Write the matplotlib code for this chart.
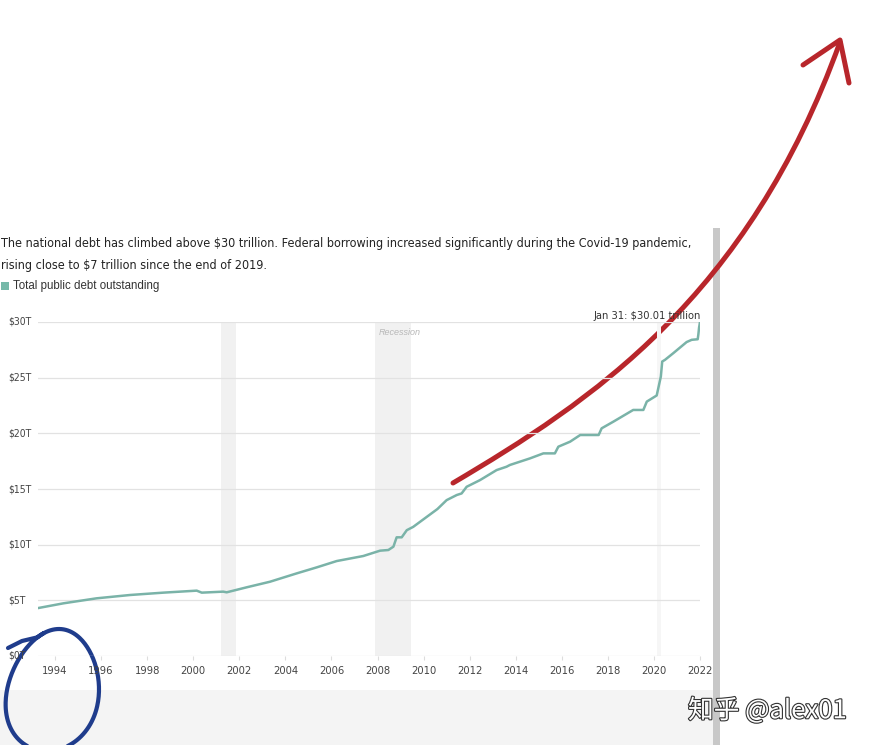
import matplotlib
matplotlib.use("Agg")
import matplotlib.pyplot as plt
from matplotlib import font_manager as fm
from matplotlib.transforms import blended_transform_factory
from matplotlib.path import Path
from matplotlib.patches import PathPatch
import matplotlib.patheffects as pe
import numpy as np

# ---------------- data ----------------
years = [1993.2, 1994.36, 1995.8, 1997.26, 1998.7, 2000.15, 2000.37, 2001.3, 2001.45,
         2002.32, 2003.33, 2004.49, 2005.36, 2006.23, 2007.38, 2008.11, 2008.47, 2008.69,
         2008.83, 2009.05, 2009.27, 2009.55, 2010.14, 2010.6, 2011.0, 2011.44, 2011.65,
         2011.87, 2012.45, 2013.17, 2013.6, 2013.75, 2014.62, 2015.2, 2015.7, 2015.85,
         2016.36, 2016.8, 2017.6, 2017.73, 2018.24, 2019.1, 2019.54, 2019.69, 2020.12,
         2020.3, 2020.36, 2020.48, 2020.84, 2021.42, 2021.64, 2021.9, 2021.93, 2021.96, 2022.0]
debt = [4.28, 4.73, 5.18, 5.48, 5.69, 5.87, 5.69, 5.78, 5.72,
        6.17, 6.67, 7.42, 7.96, 8.53, 8.98, 9.46, 9.52, 9.82,
        10.66, 10.66, 11.3, 11.6, 12.5, 13.2, 14.0, 14.46, 14.6,
        15.2, 15.8, 16.7, 17.0, 17.16, 17.75, 18.2, 18.2, 18.8,
        19.25, 19.85, 19.85, 20.45, 21.05, 22.1, 22.1, 22.85, 23.4,
        25.1, 26.45, 26.6, 27.2, 28.2, 28.4, 28.45, 28.9, 29.5, 30.0]
recessions = [(2001.2, 2001.86), (2007.9, 2009.45), (2020.15, 2020.3)]
y_ticks = [0, 5, 10, 15, 20, 25, 30]
y_tick_labels = ["$0T", "$5T", "$10T", "$15T", "$20T", "$25T", "$30T"]
x_ticks = list(range(1994, 2023, 2))
x_tick_labels = [str(y) for y in x_ticks]
title_lines = ["The national debt has climbed above $30 trillion. Federal borrowing increased significantly during the Covid-19 pandemic,",
               "rising close to $7 trillion since the end of 2019."]
legend_label = "Total public debt outstanding"
end_label = "Jan 31: $30.01 trillion"

# ---------------- fonts ----------------
names = {f.name for f in fm.fontManager.ttflist}
if "Liberation Sans Narrow" in names:
    NARROW = dict(fontfamily="Liberation Sans Narrow")
else:
    NARROW = dict(fontfamily="DejaVu Sans", fontstretch="condensed")
sans = "Liberation Sans" if "Liberation Sans" in names else "DejaVu Sans"

W, H = 873, 745
fig = plt.figure(figsize=(W / 100, H / 100), dpi=100)
fig.patch.set_facecolor("white")

# overlay axes in pixel coordinates (background + hand annotations)
bg = fig.add_axes([0, 0, 1, 1], zorder=0)
bg.set_xlim(0, W)
bg.set_ylim(H, 0)
bg.axis("off")
bg.add_patch(plt.Rectangle((0, 690), 713, 55, color="#f4f4f4", lw=0))
bg.add_patch(plt.Rectangle((713, 228), 7, 517, color="#c8c8c8", lw=0))

# chart axes
line_color = "#7ab3a8"
x0, x1 = 1993.26, 2022.0
AX_W = 700 - 38
ax = fig.add_axes([38 / W, 1 - 656 / H, AX_W / W, (656 - 322) / H], zorder=1)
ax.patch.set_alpha(0)
ax.set_xlim(x0, x1)
ax.set_ylim(0, 30)
for s in ax.spines.values():
    s.set_visible(False)
for (a, b), c in zip(recessions, ["#f1f1f1", "#f1f1f1", "#f6f6f6"]):
    ax.axvspan(a, b, color=c, lw=0, zorder=0)
for v in y_ticks:
    ax.axhline(v, color="#e2e2e2", lw=0.9, zorder=1)
ax.plot(years, debt, color=line_color, lw=1.8, zorder=3, solid_joinstyle="round")
ax.set_yticks([])
ytr = blended_transform_factory(ax.transAxes, ax.transData)
for v, lbl in zip(y_ticks, y_tick_labels):
    ax.text(-30 / AX_W, v, lbl, transform=ytr, ha="left", va="center",
            fontsize=7.5, color="#444444", **NARROW)
ax.set_xticks(x_ticks)
ax.set_xticklabels(x_tick_labels, fontsize=8, color="#444444", **NARROW)
ax.tick_params(axis="x", length=3, color="#dddddd", pad=4)
ax.text(2008.95, 29.1, "Recession", fontsize=6.5, style="italic", color="#b8b8b8",
        ha="center", va="center", fontfamily=sans)
ax.text(x1 + 0.05, 30.1, end_label, fontsize=8.0, color="#333333", ha="right", va="bottom",
        **NARROW)

# titles and legend (figure pixel coordinates)
t1 = fig.text(1 / W, 1 - 244 / H, title_lines[0], fontsize=10.2, color="#222222",
              va="center", ha="left", **NARROW)
t2 = fig.text(1 / W, 1 - 265 / H, title_lines[1], fontsize=10.2, color="#222222",
              va="center", ha="left", **NARROW)
r = fig.canvas.get_renderer()
w = t1.get_window_extent(r).width
fs = 10.2 * 690 / w
t1.set_fontsize(fs)
t2.set_fontsize(fs)

bg.add_patch(plt.Rectangle((1, 282), 8, 8, color="#76b9a9", lw=0))
fig.text(13 / W, 1 - 286 / H, legend_label, fontsize=8.3, color="#333333",
         fontfamily=sans, va="center", ha="left")

# hand-drawn red arrow (smooth curve)
red = "#b8262b"
arrow_path = Path([(453, 483), (590, 402), (748, 298), (840, 42)],
                  [Path.MOVETO, Path.CURVE4, Path.CURVE4, Path.CURVE4])
bg.add_patch(PathPatch(arrow_path, fill=False, edgecolor=red, lw=3.6,
                       capstyle="round", joinstyle="round", zorder=5))
bg.plot([803, 840, 849], [65, 40, 83], color=red, lw=3.6,
        solid_capstyle="round", solid_joinstyle="round", zorder=5)

# hand-drawn blue loop (smooth)
tt = np.linspace(2.1, 2.1 - 2 * np.pi - 0.15, 240)
lx = 53 + 46 * np.cos(tt) * (1 - 0.12 * np.sin(tt)) + 6 * np.sin(tt)
ly = 690 - 61 * np.sin(tt)
lx = np.concatenate([[8, 22], lx])
ly = np.concatenate([[648, 641], ly])
bg.plot(lx, ly, color="#1f3c8c", lw=3, solid_capstyle="round",
        solid_joinstyle="round", zorder=5)

# watermark
wm = fig.text(688 / W, 1 - 711 / H, "知乎 @alex01", fontsize=18.5, color="white",
              fontfamily=["Noto Sans CJK SC", "DejaVu Sans"], va="center", ha="left")
wm.set_path_effects([pe.withStroke(linewidth=1.6, foreground="#333333")])

fig.savefig("out.png", dpi=100)
